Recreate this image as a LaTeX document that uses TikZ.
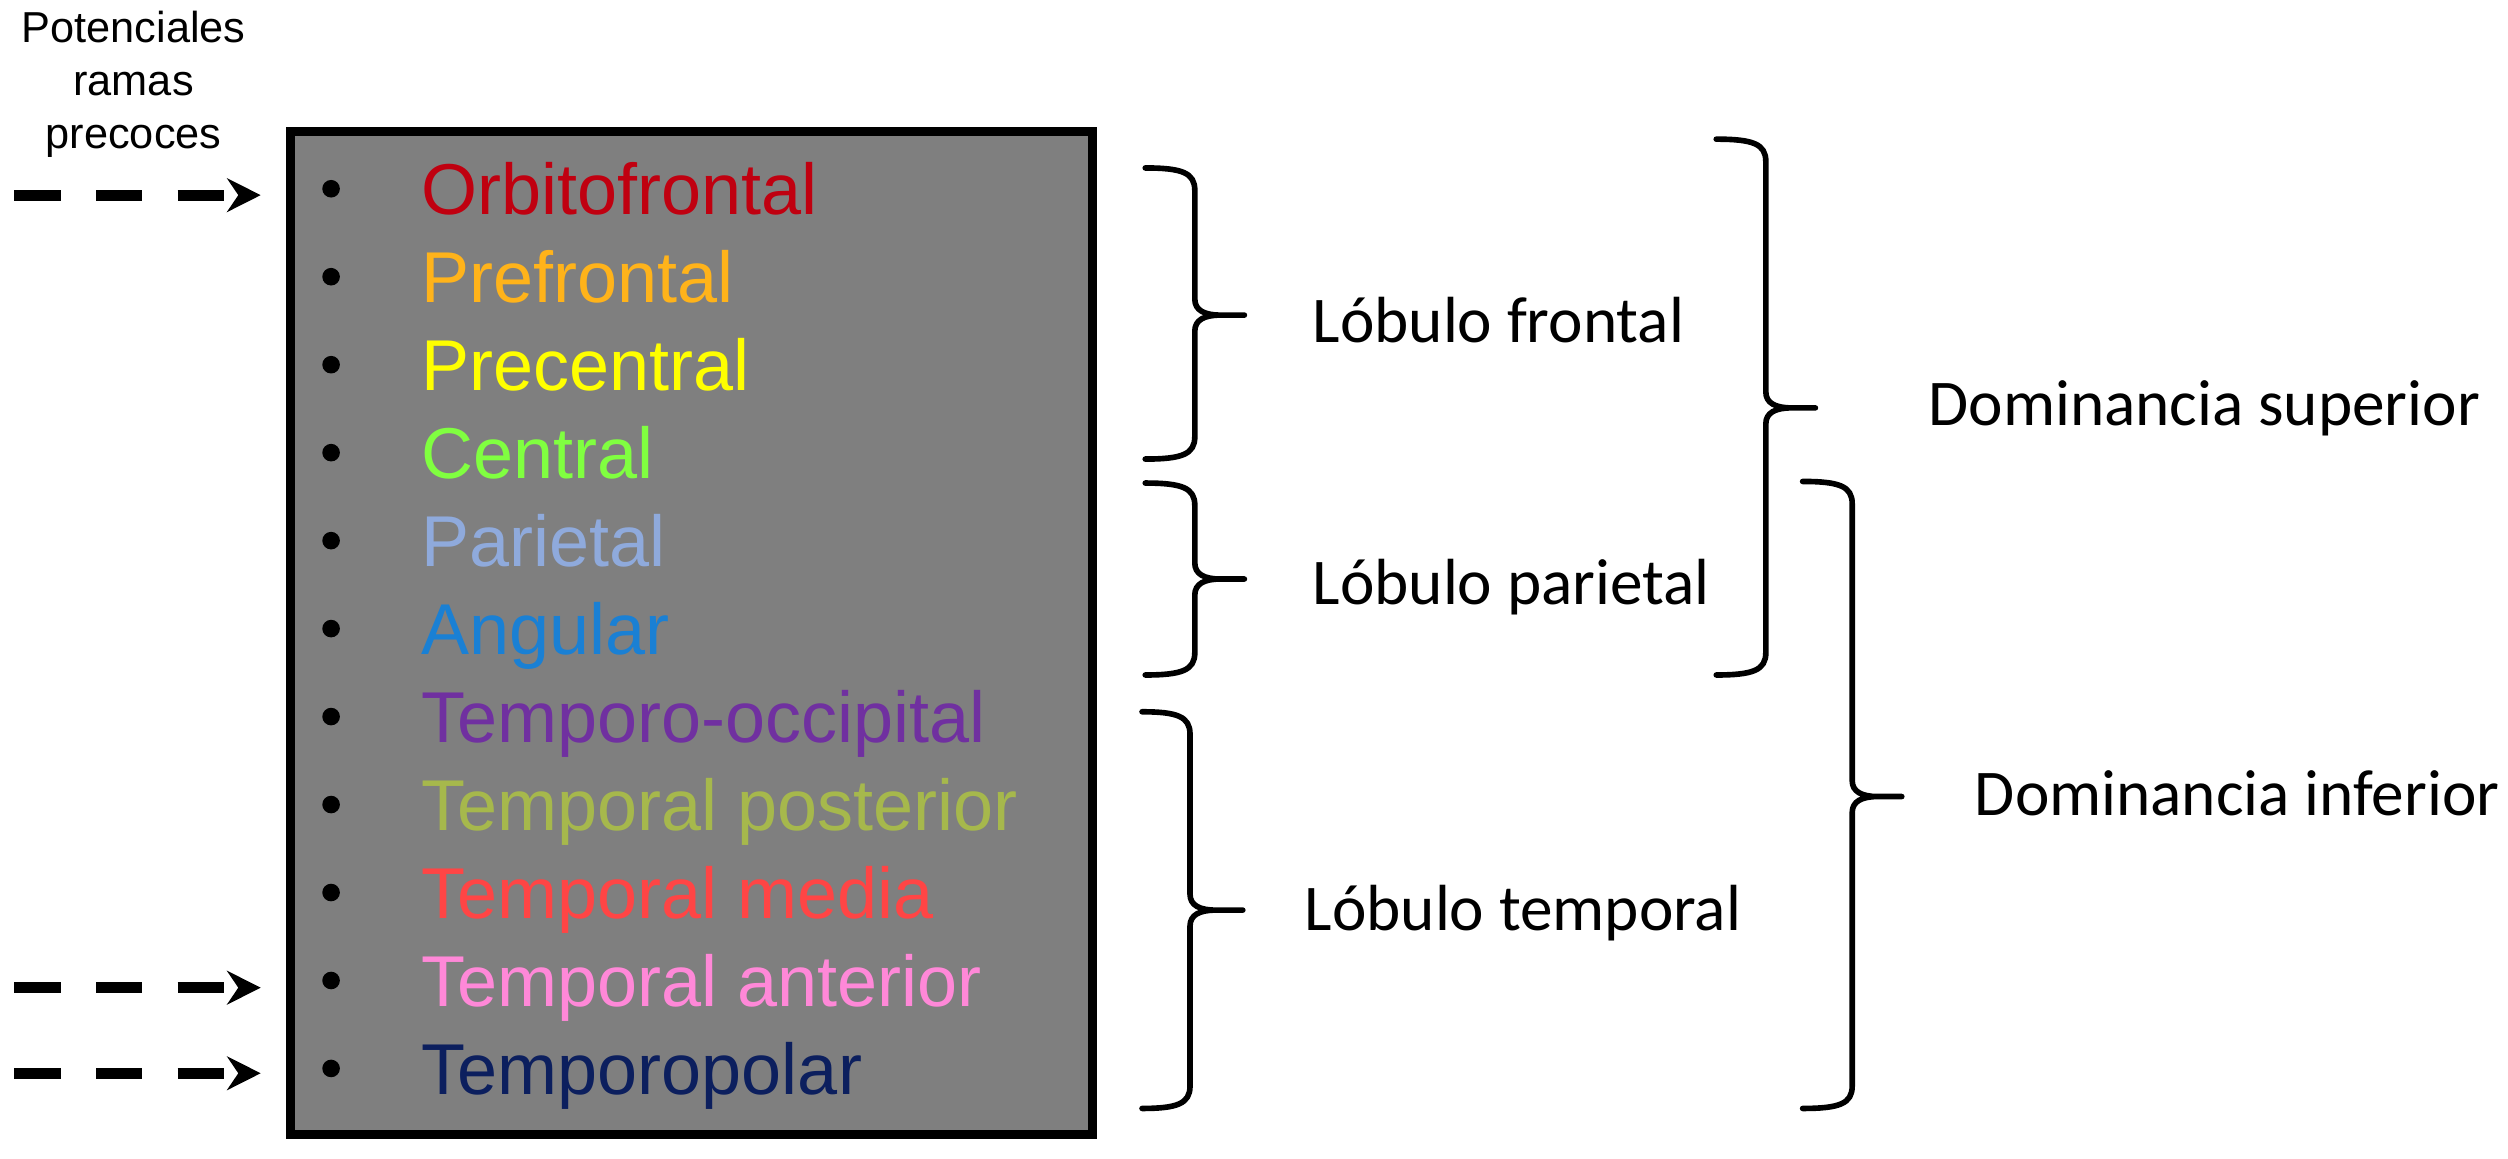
\documentclass[tikz,border=0pt]{standalone}
\usepackage{fontspec}
\setmainfont{Liberation Sans}
\newfontfamily\calib{Carlito}
\usetikzlibrary{arrows.meta}
\definecolor{cOrb}{HTML}{C00010}
\definecolor{cPre}{HTML}{FFB31A}
\definecolor{cPrc}{HTML}{FFFF00}
\definecolor{cCen}{HTML}{80FF40}
\definecolor{cPar}{HTML}{8FAADC}
\definecolor{cAng}{HTML}{1A80D4}
\definecolor{cToc}{HTML}{7030A0}
\definecolor{cTpo}{HTML}{A6B84C}
\definecolor{cTme}{HTML}{FF4545}
\definecolor{cTan}{HTML}{FF88D8}
\definecolor{cTpl}{HTML}{0C1F5E}
\definecolor{boxgray}{HTML}{7F7F7F}
\tikzset{
  itemtxt/.style={anchor=base west, inner sep=0pt, font=\fontsize{12.8}{14}\selectfont},
  bul/.style={circle, fill=black, inner sep=0pt, minimum size=0.11cm},
  lab/.style={anchor=base west, inner sep=0pt, font=\calib\fontsize{11.6}{13}\selectfont},
  pot/.style={anchor=base, inner sep=0pt, font=\fontsize{7.7}{9.4}\selectfont},
  darrow/.style={line width=2pt, dash pattern=on 0.29cm off 0.22cm,
    -{Stealth[length=0.21cm,width=0.21cm,inset=0.07cm]}},
  brc/.style={line width=1pt, line join=round, line cap=round},
  graybox/.style={draw=black, fill=boxgray, line width=1.6pt, minimum width=5.01cm, minimum height=6.265cm, inner sep=0pt},
}
\newcommand\RBrace[6]{% xl xv xt top tip bot
  \draw[brc] (#1,#4) .. controls (#2-8,#4) and (#2,#4+3) .. (#2,#4+14)
    -- (#2,#5-10) .. controls (#2,#5-3) and (#2+6,#5) .. (#2+16,#5) -- (#3,#5)
    -- (#2+16,#5) .. controls (#2+6,#5) and (#2,#5+3) .. (#2,#5+10)
    -- (#2,#6-14) .. controls (#2,#6-3) and (#2-8,#6) .. (#1,#6);}
\begin{document}
\begin{tikzpicture}[x=0.01cm,y=-0.01cm]
\useasboundingbox (0,0) rectangle (1568,724);
% header text
\node[pot] (pot1) at (83.5,26.7) {Potenciales};
\node[pot] (pot2) at (83.5,59.5) {ramas};
\node[pot] (pot3) at (83.5,92.7) {precoces};
% box
\node[graybox] (box) at (432.5,395.8) {};
% items
\foreach \i/\t/\c in {0/Orbitofrontal/cOrb,1/Prefrontal/cPre,2/Precentral/cPrc,3/Central/cCen,
  4/Parietal/cPar,5/Angular/cAng,6/Temporo-occipital/cToc,7/Temporal posterior/cTpo,
  8/Temporal media/cTme,9/Temporal anterior/cTan,10/Temporopolar/cTpl}{
  \node[bul] (bul\i) at (207,118+55*\i) {};
  \node[itemtxt, text=\c] (item\i) at (263,134+55*\i) {\t};
}
% dashed arrows
\coordinate (s0) at (9,122);  \coordinate (e0) at (163,122);
\coordinate (s9) at (9,617.5);  \coordinate (e9) at (163,617.5);
\coordinate (s10) at (9,671); \coordinate (e10) at (163,671);
\draw[darrow] (s0) -- (e0);
\draw[darrow] (s9) -- (e9);
\draw[darrow] (s10) -- (e10);
% braces
\RBrace{716}{747}{778}{105}{197}{287}
\RBrace{716}{747}{778}{302}{362}{422}
\RBrace{714}{744}{777}{445}{569}{693}
\RBrace{1073}{1104}{1135}{87}{255}{422}
\RBrace{1127}{1158}{1189}{301}{498}{693}
% labels
\node[lab] (lfront) at (820,214) {Lóbulo frontal};
\node[lab] (lpar) at (820,378) {Lóbulo parietal};
\node[lab] (ltemp) at (815,582) {Lóbulo temporal};
\node[lab] (dsup) at (1205,266) {Dominancia superior};
\node[lab] (dinf) at (1234,510) {Dominancia inferior};
\end{tikzpicture}
\end{document}
